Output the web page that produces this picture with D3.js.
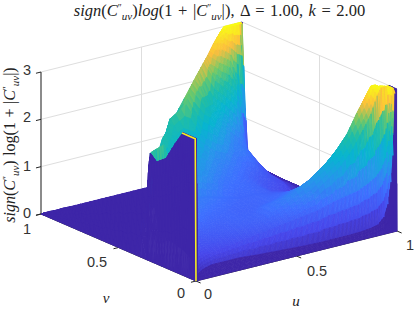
<!DOCTYPE html>
<html>
<head>
<meta charset="utf-8">
<script src="https://cdn.jsdelivr.net/npm/d3@7"></script>
<style>
  html, body { margin: 0; padding: 0; background: #fff; }
  svg { display: block; }
  .tick { font: 14.5px "Liberation Sans", Arial, sans-serif; fill: #333; text-anchor: middle; }
  .math { font-family: "Liberation Serif", serif; fill: #222; }
</style>
</head>
<body>
<svg id="chart" width="415" height="312"></svg>
<script>
var uValues = [0, .005, .012, .04, .08, .15, .22, .3, .38, .46, .54, .62, .7, .76, .82, .87, .91, .94, .96, .975, .985, .995, 1];
var vValues = [0, .005, .02, .05, .09, .14, .2, .26, .31, .32, .42, .5, .58, .66, .74, .8, .86, .91, .95, .98, 1];

// one row per v value, one column per u value
var zRows = [
  [0,0,0,0,0,0,0,0,0,0,0,0,0,0,0,0,0,0,0,0,0,0,0],
  [0,3,.12,.2,.25,.25,.25,.22,.2,.18,.16,.15,.15,.15,.16,.18,.22,.35,.6,1.05,1.6,2.9,3],
  [0,3,.3,.4,.45,.5,.55,.6,.65,.7,.75,.8,.9,.95,1,1.1,1.2,1.35,1.55,1.9,2.5,3,3],
  [0,3,.4,.5,.55,.6,.65,.7,.72,.8,.95,1.1,1.35,1.55,1.85,2.2,2.5,2.85,3,3,3,3,3],
  [0,3,.5,.55,.62,.68,.72,.76,.78,.95,1.1,1.3,1.54,1.78,2.1,2.5,2.78,3,3,2.95,2.95,2.85,2.7],
  [0,2.7,.55,.6,.66,.8,.76,.8,.78,.92,1,1.12,1.28,1.51,1.77,2,2.35,2.6,2.6,2.5,2.4,2.3,2.2],
  [0,2.3,.6,.65,.75,.95,.85,.82,.78,.8,.85,.95,1.02,1.22,1.2,1.4,1.6,1.8,2,2.1,2.2,2.2,2.1],
  [0,2.14,.7,.8,.9,1.05,1,.9,.82,.8,.82,.82,.82,.95,1,1.1,1.2,1.3,1.4,1.4,1.4,1.3,1.2],
  [0,2.01,2.25,2.3,2.35,1.2,1.05,1,.9,.82,.82,.76,.7,.66,.75,.85,.9,.95,1,1,.95,.9,.8],
  [0,1.5,1.4,1.5,1.2,1.25,1.1,1.02,.92,.82,.82,.75,.68,.62,.7,.8,.85,.9,.95,.9,.85,.8,.7],
  [0,1.28,0,0,1.2,1.6,1.55,1.35,1.2,.95,.88,.78,.58,.5,.35,.35,.4,.4,.4,.35,.3,.25,.2],
  [0,1.1,0,0,0,1.2,2.08,1.65,1.45,1.2,1,.85,.68,.6,.5,.28,.22,.2,.18,.15,.12,.1,.08],
  [0,.93,0,0,0,0,.8,2,1.75,1.55,1.2,1.05,.85,.75,.55,.38,.27,.15,.12,.1,.08,.06,.05],
  [0,.75,0,0,0,0,0,1,2.09,2.3,1.7,1.45,1.05,1,.7,.4,.2,.18,.12,.1,.08,.06,.05],
  [0,.57,0,0,0,0,0,0,1,1.9,2.45,1.95,1.5,1.1,.9,.5,.25,.2,.15,.1,.08,.06,.05],
  [0,.44,0,0,0,0,0,0,0,0,1.5,2.55,1.85,1.6,1.3,.75,.4,.3,.2,.12,.1,.08,.06],
  [0,.32,0,0,0,0,0,0,0,0,0,1.6,2.64,2.2,1.95,1.65,.55,.4,.3,.2,.15,.1,.08],
  [0,.2,0,0,0,0,0,0,0,0,0,0,1.6,2.67,2.45,2.3,1.9,.65,.4,.3,.22,.15,.1],
  [0,.12,0,0,0,0,0,0,0,0,0,0,0,1.6,2.8,2.75,2.6,2.45,2.4,.45,.35,.25,.2],
  [0,.05,0,0,0,0,0,0,0,0,0,0,0,0,1.5,2.9,3,3,3,3,3,.4,.3],
  [0,0,0,0,0,0,0,0,0,0,0,0,0,0,0,2.75,3,3,3,3,3,3,3]
];

var uTicks = [0, .5, 1];
var vTicks = [0, .5, 1];
var zTicks = [0, 1, 2, 3];

// parula
var colorStops = [0, .45, .9, 1.3, 1.7, 2.05, 2.35, 2.65, 3];
var colorList = ['#3e26a8', '#4747eb', '#3e6fff', '#2796eb', '#08b5d0', '#1fbda8', '#6fc96a', '#fcbe3d', '#f9fb15'];
var color = d3.scaleLinear().domain(colorStops).range(colorList).clamp(true);

// orthographic view, each data axis has its own screen offset
var uX = d3.scaleLinear([0, 1], [196, 397]);
var uY = d3.scaleLinear([0, 1], [281, 231]);
var vX = d3.scaleLinear([0, 1], [0, -155]);
var vY = d3.scaleLinear([0, 1], [0, -67]);
var zY = d3.scaleLinear([0, 3], [0, -142]);

var px = function (u, v) { return uX(u) + vX(v); };
var py = function (u, v, z) { return uY(u) + vY(v) + zY(z); };

var svg = d3.select('#chart');

var seg = function (g, a, b, col, w) {
  g.append('line')
    .attr('x1', px(a[0], a[1])).attr('y1', py(a[0], a[1], a[2]))
    .attr('x2', px(b[0], b[1])).attr('y2', py(b[0], b[1], b[2]))
    .attr('stroke', col).attr('stroke-width', w);
};

// back walls
var grid = svg.append('g');
var gridColor = '#dedede';
zTicks.forEach(function (z) {
  if (z === 0) return;
  seg(grid, [0, 1, z], [1, 1, z], gridColor, 1);
  seg(grid, [1, 1, z], [1, 0, z], gridColor, 1);
});
uTicks.forEach(function (u) { seg(grid, [u, 1, 0], [u, 1, 3], gridColor, 1); });
vTicks.forEach(function (v) { seg(grid, [1, v, 0], [1, v, 3], gridColor, 1); });

// axes
var axes = svg.append('g');
var axisColor = '#555';
seg(axes, [0, 1, 0], [0, 1, 3], axisColor, 1.3);
seg(axes, [0, 0, 0], [1, 0, 0], '#262626', 1);
seg(axes, [0, 0, 0], [0, 1, 0], '#262626', 1);
zTicks.forEach(function (z) { seg(axes, [0, 1, z], [-.025, 1, z], '#262626', 1); });
vTicks.forEach(function (v) { seg(axes, [0, v, 0], [-.025, v, 0], '#262626', 1); });
uTicks.forEach(function (u) { seg(axes, [u, 0, 0], [u, -.03, 0], '#262626', 1); });

// surface: each grid cell is split along its diagonal and the two triangles are
// cut into small facets for the shading, painted from the back corner forward
var SUB = 3;
var facets = [];
var nu = uValues.length, nv = vValues.length;

var facetColor = function (i, j, p) {
  if (i === 0 || i === nu - 2 || j === 0) return color(0); // side walls stay at the base colour
  if (i === 1) {
    if (j > 1) return color(0);
    var t = (p[1] - vValues[j]) / (vValues[j + 1] - vValues[j]);
    return color(zRows[j][2] + (zRows[j + 1][2] - zRows[j][2]) * t);
  }
  return color(p[2]);
};

var mix = function (a, b, c, wa, wb) {
  return [0, 1, 2].map(function (n) { return a[n] * wa + b[n] * wb + c[n] * (1 - wa - wb); });
};
var pushFacet = function (i, j, q) {
  var mid = mix(q[0], q[1], q[2], 1 / 3, 1 / 3);
  var col = facetColor(i, j, mid);
  facets.push({
    pts: q.map(function (p) { return px(p[0], p[1]) + ',' + py(p[0], p[1], p[2]); }).join(' '),
    col: col
  });
};
var pushTriangle = function (i, j, A, B, C) {
  for (var a = 0; a < SUB; a++) {
    for (var b = 0; b < SUB - a; b++) {
      var P = function (x, y) { return mix(A, B, C, x / SUB, y / SUB); };
      pushFacet(i, j, [P(a, b), P(a + 1, b), P(a, b + 1)]);
      if (a + b < SUB - 1) pushFacet(i, j, [P(a + 1, b), P(a + 1, b + 1), P(a, b + 1)]);
    }
  }
};

for (var i = nu - 2; i >= 0; i--) {
  for (var j = nv - 2; j >= 0; j--) {
    var p00 = [uValues[i], vValues[j], zRows[j][i]];
    var p10 = [uValues[i + 1], vValues[j], zRows[j][i + 1]];
    var p01 = [uValues[i], vValues[j + 1], zRows[j + 1][i]];
    var p11 = [uValues[i + 1], vValues[j + 1], zRows[j + 1][i + 1]];
    pushTriangle(i, j, p00, p01, p11);
    pushTriangle(i, j, p00, p10, p11);
  }
}

svg.append('g').selectAll('polygon')
  .data(facets)
  .join('polygon')
  .attr('points', function (d) { return d.pts; })
  .attr('fill', function (d) { return d.col; })
  .attr('stroke', function (d) { return d.col; })
  .attr('stroke-width', .8);

// bright edge on the front corner
var edge = [[uValues[0], vValues[0], 0]];
for (var k = 1; k <= 4; k++) edge.push([uValues[0], vValues[k], zRows[k][1]]);
svg.append('path')
  .attr('d', d3.line().x(function (d) { return px(d[0], d[1]); }).y(function (d) { return py(d[0], d[1], d[2]); })(edge))
  .attr('fill', 'none').attr('stroke', '#f4ee1c').attr('stroke-width', 1.6);

// tick labels
var label = function (x, y, s) {
  svg.append('text').attr('class', 'tick').attr('x', x).attr('y', y).text(s);
};
label(27, 75, '3'); label(27, 122, '2'); label(27, 171, '1'); label(27, 218, '0');
label(27, 234, '1'); label(97, 267, '0.5'); label(181, 298, '0');
label(208, 299, '0'); label(317, 276, '0.5'); label(410, 250, '1');

// [text, italic, dy, size, dx]
var mathRun = function (sel, parts) {
  var last = 0;
  parts.forEach(function (p) {
    sel.append('tspan')
      .attr('dx', p[4] || null)
      .attr('dy', (p[2] || 0) - last)
      .attr('font-style', p[1] ? 'italic' : 'normal')
      .attr('font-size', p[3] || null)
      .text(p[0]);
    last = p[2] || 0;
  });
};

var cuv = [['C', 1], ['\u2033', 0, -5.5, 9.5], ['uv', 1, 3.5, 11]];
var titleParts = [['sign', 1], ['(', 0]].concat(cuv, [[')', 0], ['log', 1], ['(1 + |', 0]], cuv,
  [['|), \u0394 = 1.00, ', 0], ['k', 1], [' = 2.00', 0]]);
var ylabParts = [['sign', 1], ['(', 0]].concat(cuv, [[')', 0], [' log(1 + |', 0]], cuv, [['|)', 0]]);

mathRun(svg.append('text').attr('class', 'math').attr('x', 219.5).attr('y', 16)
  .attr('text-anchor', 'middle').attr('font-size', 16.5).attr('word-spacing', 1.4), titleParts);
mathRun(svg.append('text').attr('class', 'math').attr('transform', 'translate(15,145) rotate(-90)')
  .attr('text-anchor', 'middle').attr('font-size', 16).attr('word-spacing', .5), ylabParts);
svg.append('text').attr('class', 'math').attr('x', 296).attr('y', 306)
  .attr('text-anchor', 'middle').attr('font-size', 15).attr('font-style', 'italic').text('u');
svg.append('text').attr('class', 'math').attr('x', 106).attr('y', 303)
  .attr('text-anchor', 'middle').attr('font-size', 15).attr('font-style', 'italic').text('v');
</script>
</body>
</html>
